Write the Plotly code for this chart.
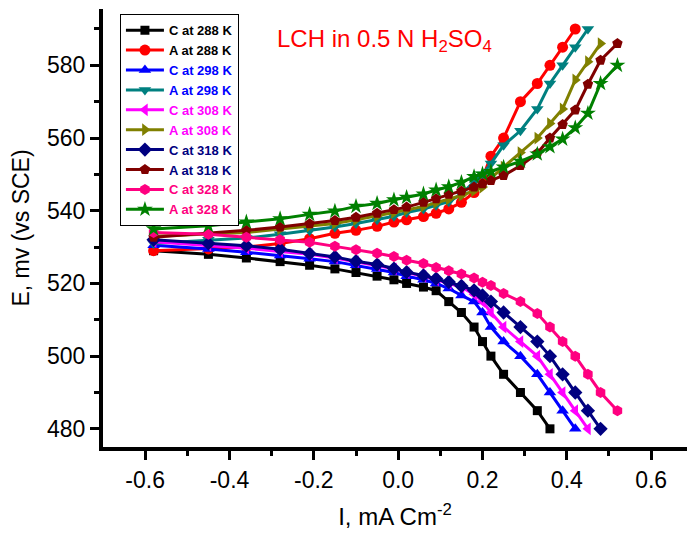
import plotly.graph_objects as go

# Current density grid (mA cm^-2) shared by all series
I_grid = [-0.58, -0.45, -0.36, -0.28, -0.21, -0.15, -0.10, -0.05, -0.01, 0.02, 0.06,
          0.09, 0.12, 0.15, 0.18, 0.20, 0.22, 0.25, 0.29, 0.33, 0.36, 0.39, 0.42,
          0.45, 0.48, 0.52]

# Potential E (mV vs SCE)
E_c288 = [529, 528, 527, 526, 525, 524, 523, 522, 521, 520, 519, 518, 515, 512, 508, 504,
          500, 495, 490, 485, 480]
E_a288 = [529, 529.5, 530, 531, 532.3, 533.8, 534.6, 535.7, 536.9, 537.5, 538.4, 539.3,
          540.5, 542.3, 545, 549, 555, 560, 570, 575, 580, 585, 590]
E_c298 = [530.5, 529.5, 528.6, 527.7, 526.8, 526, 525, 524, 523, 522, 521, 520, 518.6,
          516.7, 515, 512, 508, 504, 500, 495, 490, 485, 480]
E_a298 = [531, 532, 532.5, 533.5, 534.5, 535.5, 536.5, 537.5, 538.5, 539.5, 540.5, 541.5,
          542.5, 544.5, 548, 550, 553, 558, 562, 568, 575, 580, 585, 590]
E_c308 = [531.5, 530.5, 529.7, 528.8, 528, 527, 526, 525, 524, 523, 522, 521, 520, 519,
          517, 515, 512, 508, 504, 500, 495, 490, 485, 480]
E_a308 = [533, 533.5, 534, 535, 535.8, 536.5, 537.5, 538.5, 539.5, 540.2, 541.2, 542.2,
          543.2, 544.2, 545.5, 546.5, 549, 552, 556, 560, 564, 568, 576, 581, 586]
E_c318 = [532, 531, 530.4, 529.4, 528.2, 527.3, 526.1, 525.2, 524.1, 523.1, 522.2, 521.3,
          520.4, 519.3, 518.1, 516.7, 515, 512, 508, 504, 500, 495, 490, 485, 480]
E_a318 = [532.7, 533.7, 534.6, 535.5, 536.4, 537.3, 538.2, 539.3, 540.3, 541, 542.3, 543.3,
          544.5, 545.4, 546.5, 547.4, 548.3, 549.7, 552.4, 555.8, 560, 563.7, 567.7, 574.8,
          581.4, 586]
E_c328 = [534, 533.5, 532.7, 532, 531.3, 530.2, 529.3, 528.3, 527.4, 526.4, 525.5, 524.4,
          523.5, 522.6, 521.5, 520.3, 519.4, 517.2, 515, 511.7, 508, 504, 500, 495, 490, 485]
E_a328 = [535, 535.9, 536.9, 537.8, 539, 539.9, 541.2, 542, 543, 543.7, 544.6, 545.7, 546.6,
          547.8, 549.4, 550.1, 550.8, 552, 553.6, 555.6, 557.6, 559.7, 562.8, 566.8, 575, 580]

series_names = ["C at 288 K", "A at 288 K", "C at 298 K", "A at 298 K", "C at 308 K",
                "A at 308 K", "C at 318 K", "A at 318 K", "C at 328 K", "A at 328 K"]
series_E = [E_c288, E_a288, E_c298, E_a298, E_c308, E_a308, E_c318, E_a318, E_c328, E_a328]

x_tickvals = [-0.6, -0.4, -0.2, 0.0, 0.2, 0.4, 0.6]
x_ticktext = ["-0.6", "-0.4", "-0.2", "0.0", "0.2", "0.4", "0.6"]
y_tickvals = [480, 500, 520, 540, 560, 580]

line_colors = ["#000000", "#FF0000", "#0000FF", "#008080", "#FF00FF",
               "#808000", "#000080", "#800000", "#FF0080", "#008000"]
label_colors = ["#000000", "#000000", "#0000FF", "#0000FF", "#FF00FF",
                "#FF00FF", "#000080", "#000080", "#FF0080", "#FF0080"]
symbols = ["square", "circle", "triangle-up", "triangle-down", "triangle-left",
           "triangle-right", "diamond", "pentagon", "hexagon", "star"]
sizes = [9, 11, 11, 11, 11, 11, 11, 11, 11, 12]

FONT = "Liberation Sans, Arial, sans-serif"

fig = go.Figure()
for i, (name, E) in enumerate(zip(series_names, series_E)):
    fig.add_trace(go.Scatter(
        x=I_grid[:len(E)], y=E, mode="lines+markers",
        name=f'<span style="color:{label_colors[i]}">{name}</span>',
        line=dict(color=line_colors[i], width=3),
        marker=dict(symbol=symbols[i], size=sizes[i], color=line_colors[i],
                    line=dict(width=0)),
    ))

fig.update_layout(
    width=687, height=542,
    margin=dict(l=103, r=0, t=9, b=95),
    paper_bgcolor="white", plot_bgcolor="white",
    font=dict(family=FONT, color="black"),
    showlegend=True,
    legend=dict(x=0.029, y=0.988, xanchor="left", yanchor="top",
                bordercolor="black", borderwidth=1, bgcolor="white",
                font=dict(family=FONT, size=13, weight="bold"),
                tracegroupgap=0, itemwidth=38),
    annotations=[dict(
        text="LCH in 0.5 N H<sub>2</sub>SO<sub>4</sub>",
        xref="paper", yref="paper", x=0.295, y=0.928,
        xanchor="left", yanchor="middle", showarrow=False,
        font=dict(family=FONT, size=24, color="#FF0000"))],
)

fig.update_xaxes(
    range=[-0.7, 0.685], showgrid=False, zeroline=False,
    showline=True, linewidth=4, linecolor="black",
    ticks="outside", ticklen=9, tickwidth=3, tickcolor="black",
    tickvals=x_tickvals, ticktext=x_ticktext,
    tickfont=dict(family=FONT, size=23),
    minor=dict(ticks="outside", ticklen=5, tickwidth=3, tickcolor="black",
               tickvals=[-0.5, -0.3, -0.1, 0.1, 0.3, 0.5]),
    title=dict(text="I, mA Cm<sup>-2</sup>", font=dict(family=FONT, size=24), standoff=18),
)
fig.update_yaxes(
    range=[475, 595.5], showgrid=False, zeroline=False,
    showline=True, linewidth=4, linecolor="black",
    ticks="outside", ticklen=9, tickwidth=3, tickcolor="black",
    tickvals=y_tickvals,
    tickfont=dict(family=FONT, size=23),
    minor=dict(ticks="outside", ticklen=5, tickwidth=3, tickcolor="black",
               tickvals=[490, 510, 530, 550, 570, 590]),
    title=dict(text="E, mv (vs SCE)", font=dict(family=FONT, size=23), standoff=12),
)

fig.write_html("out.html")
